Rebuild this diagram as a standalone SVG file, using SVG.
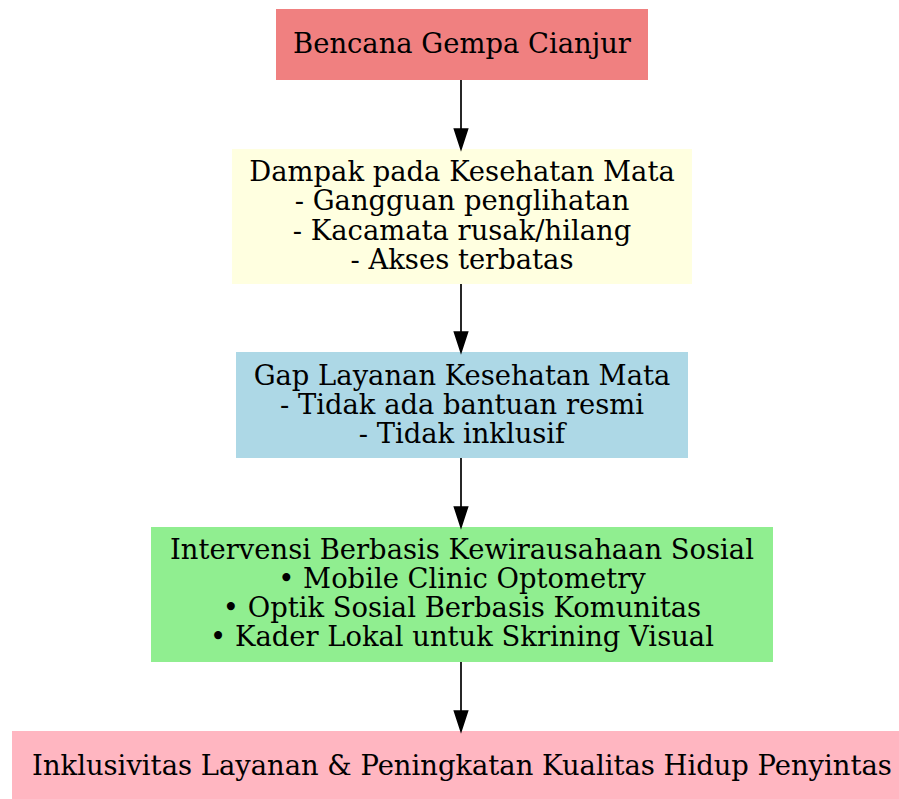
<svg xmlns="http://www.w3.org/2000/svg" width="899" height="799" viewBox="0 0 899 799">
<style>
text{font-family:"DejaVu Serif",serif;font-size:27.4px;fill:#000;text-anchor:middle}
.e{stroke:#000;stroke-width:1.7;fill:none}
.h{fill:#000;stroke:#000;stroke-width:1.7}
</style>
<rect width="899" height="799" fill="#fff"/>
<g id="n1"><rect x="276" y="9" width="372" height="71" fill="#F08080"/><text x="462" y="53">Bencana Gempa Cianjur</text></g>
<g id="n2"><rect x="232" y="149" width="460" height="135" fill="#FFFFE0"/>
<text x="462" y="181">Dampak pada Kesehatan Mata</text>
<text x="462" y="210">- Gangguan penglihatan</text>
<text x="462" y="240">- Kacamata rusak/hilang</text>
<text x="462" y="269">- Akses terbatas</text></g>
<g id="n3"><rect x="236" y="352" width="452" height="106" fill="#ADD8E6"/>
<text x="462" y="385">Gap Layanan Kesehatan Mata</text>
<text x="462" y="414">- Tidak ada bantuan resmi</text>
<text x="462" y="443">- Tidak inklusif</text></g>
<g id="n4"><rect x="151" y="527" width="622" height="135" fill="#90EE90"/>
<text x="462" y="559">Intervensi Berbasis Kewirausahaan Sosial</text>
<text x="462" y="588">• Mobile Clinic Optometry</text>
<text x="462" y="617">• Optik Sosial Berbasis Komunitas</text>
<text x="462" y="646">• Kader Lokal untuk Skrining Visual</text></g>
<g id="n5"><rect x="12" y="731" width="900" height="70" fill="#FFB6C1"/>
<text x="462" y="775">Inklusivitas Layanan &amp; Peningkatan Kualitas Hidup Penyintas</text></g>
<g id="edges">
<path class="e" d="M461 80V129"/><path class="h" d="M454.5 129L467.5 129L461 149Z"/>
<path class="e" d="M461 284V332"/><path class="h" d="M454.5 332L467.5 332L461 352Z"/>
<path class="e" d="M461 458V507"/><path class="h" d="M454.5 507L467.5 507L461 527Z"/>
<path class="e" d="M461 662V711"/><path class="h" d="M454.5 711L467.5 711L461 731Z"/>
</g>
</svg>
